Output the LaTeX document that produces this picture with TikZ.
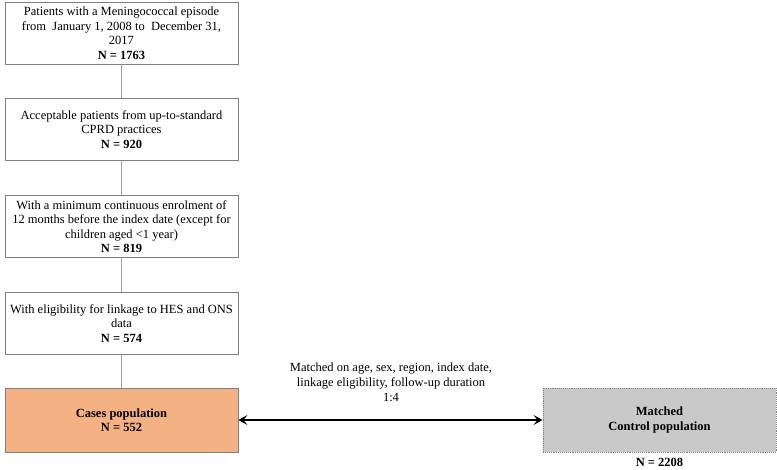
\documentclass[tikz,border=0pt]{standalone}
\usepackage{fontspec}
\setmainfont{Liberation Serif}
\usetikzlibrary{arrows.meta}
\definecolor{boxline}{HTML}{808080}
\definecolor{conn}{HTML}{A0A0A0}
\definecolor{casefill}{HTML}{F4B183}
\definecolor{ctrlfill}{HTML}{C9C9C9}
\begin{document}
\begin{tikzpicture}[x=1pt,y=-1pt,
  flowbox/.style={draw=boxline, line width=0.9pt, minimum width=233pt, minimum height=62pt, align=center, inner sep=1pt, font=\fontsize{12.5}{14.5}\selectfont},
  txt/.style={font=\fontsize{12.5}{14.8}\selectfont},
  link/.style={draw=conn, line width=0.9pt}]
\useasboundingbox (0,0) rectangle (777,469);
\node[flowbox] (b1) at (121.5,33) {Patients with a Meningococcal episode\\from\ \ January 1, 2008 to\ \ December 31,\\2017\\\textbf{N = 1763}};
\node[flowbox] (b2) at (121.5,129.5) {Acceptable patients from up-to-standard\\CPRD practices\\\textbf{N = 920}};
\node[flowbox] (b3) at (121.5,226.5) {With a minimum continuous enrolment of\\12 months before the index date (except for\\children aged <1 year)\\\textbf{N = 819}};
\node[flowbox] (b4) at (121.5,323.5) {With eligibility for linkage to HES and ONS\\data\\\textbf{N = 574}};
\node[flowbox, fill=casefill, minimum height=64pt] (cases) at (121.5,420) {\textbf{Cases population}\\\textbf{N = 552}};
\node[flowbox, fill=ctrlfill, draw=boxline, densely dotted, minimum height=64pt] (ctrl) at (659.5,420) {\textbf{Matched}\\\textbf{Control population}};
\node[txt, anchor=base, inner sep=0pt] (n2208) at (659.5,466) {\textbf{N = 2208}};
\node[txt, align=center] (lab) at (391,382) {Matched on age, sex, region, index date,\\linkage eligibility, follow-up duration\\1:4};
\draw[link] (b1) -- (b2);
\draw[link] (b2) -- (b3);
\draw[link] (b3) -- (b4);
\draw[link] (b4) -- (cases);
\draw[line width=2pt, {Stealth[length=9pt,width=10pt,inset=4pt]}-{Stealth[length=9pt,width=10pt,inset=4pt]}] (cases.east) -- (ctrl.west);
\end{tikzpicture}
\end{document}
